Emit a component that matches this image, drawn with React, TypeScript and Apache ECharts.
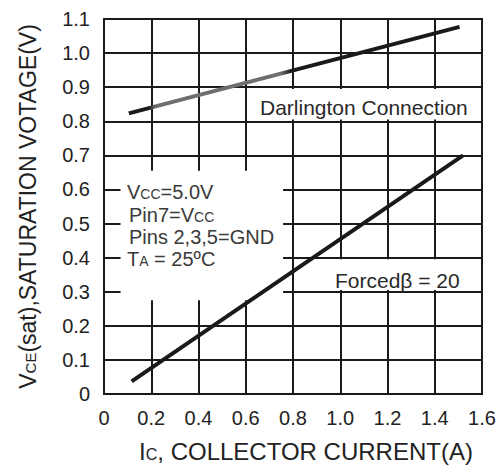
import React, { useEffect, useRef } from "react";
import * as echarts from "echarts";

const xTicks = [0, 0.2, 0.4, 0.6, 0.8, 1.0, 1.2, 1.4, 1.6];
const yTicks = [0, 0.1, 0.2, 0.3, 0.4, 0.5, 0.6, 0.7, 0.8, 0.9, 1.0, 1.1];
const darlingtonData = [
  [0.105, 0.823],
  [1.505, 1.077],
];
const forcedData = [
  [0.117, 0.037],
  [1.52, 0.7],
];
const noteLines = ["V{s|CC}=5.0V", "Pin7=V{s|CC}", "Pins 2,3,5=GND", "T{s|A} = 25ºC"];

const FONT = "'Liberation Sans', Arial, Helvetica, sans-serif";
const INK = "#1a1a1a";

export default function App() {
  const ref = useRef<HTMLDivElement>(null);
  useEffect(() => {
    document.body.style.margin = "0";
    const chart = echarts.init(ref.current!, null, { renderer: "svg" });
    const richSmall = {
      n: { fontSize: 20, fontFamily: FONT, color: "#3a3a3a", verticalAlign: "bottom" },
      s: { fontSize: 14, fontFamily: FONT, color: "#3a3a3a", verticalAlign: "bottom", padding: [0, 0, 1, 0] },
    };
    const noteY = [191.5, 215, 236.5, 258.5];
    const option: any = {
      animation: false,
      backgroundColor: "#fff",
      textStyle: { fontFamily: FONT },
      grid: {
        left: 104,
        right: 19,
        top: 19,
        bottom: 71,
        show: true,
        borderColor: INK,
        borderWidth: 2,
        backgroundColor: "transparent",
      },
      xAxis: {
        type: "value",
        min: xTicks[0],
        max: xTicks[xTicks.length - 1],
        interval: 0.2,
        name: "I{s|C}, COLLECTOR CURRENT(A)",
        nameLocation: "middle",
        nameGap: 45,
        nameTextStyle: {
          fontSize: 24,
          fontFamily: FONT,
          color: "#222",
          padding: [0, 0, 0, 26],
          rich: {
            s: { fontSize: 16, fontFamily: FONT, color: "#222", verticalAlign: "bottom", padding: [0, 0, 1, 0] },
          },
        },
        axisLine: { show: true, lineStyle: { color: INK, width: 2 } },
        axisTick: { show: false },
        axisLabel: {
          fontSize: 20,
          color: "#222",
          margin: 14,
          fontFamily: FONT,
          formatter: (v: number) => (v === 0 ? "0" : v.toFixed(1)),
        },
        splitLine: { show: true, lineStyle: { color: INK, width: 2 } },
      },
      yAxis: {
        type: "value",
        min: yTicks[0],
        max: yTicks[yTicks.length - 1],
        interval: 0.1,
        name: "V{s|CE}(sat),SATURATION VOTAGE(V)",
        nameLocation: "middle",
        nameGap: 65,
        nameTextStyle: {
          fontSize: 23,
          fontFamily: FONT,
          color: "#222",
          rich: {
            s: { fontSize: 15, fontFamily: FONT, color: "#222", verticalAlign: "bottom", padding: [0, 0, 1, 0] },
          },
        },
        axisLine: { show: true, lineStyle: { color: INK, width: 2 } },
        axisTick: { show: true, inside: true, length: 14, lineStyle: { color: INK, width: 2 } },
        axisLabel: {
          fontSize: 20,
          color: "#222",
          margin: 14,
          fontFamily: FONT,
          formatter: (v: number) => (v === 0 ? "0" : v.toFixed(1)),
        },
        splitLine: { show: true, lineStyle: { color: INK, width: 2 } },
      },
      series: [
        {
          type: "line",
          name: "Darlington Connection",
          data: darlingtonData,
          showSymbol: false,
          symbol: "none",
          z: 5,
          lineStyle: {
            width: 4,
            cap: "butt",
            color: {
              type: "linear",
              x: 0,
              y: 0,
              x2: 1,
              y2: 0,
              colorStops: [
                { offset: 0, color: INK },
                { offset: 0.06, color: INK },
                { offset: 0.08, color: "#6e6e6e" },
                { offset: 0.46, color: "#6e6e6e" },
                { offset: 0.49, color: INK },
                { offset: 1, color: INK },
              ],
            },
          },
          markArea: {
            silent: true,
            z: 1,
            itemStyle: { color: "#fff", opacity: 1, borderWidth: 0 },
            label: { show: false },
            data: [
              [
                { xAxis: 0.07, yAxis: 0.655 },
                { xAxis: 0.758, yAxis: 0.275 },
              ],
              [
                { xAxis: 0.66, yAxis: 0.895 },
                { xAxis: 1.59, yAxis: 0.805 },
              ],
              [
                { xAxis: 0.84, yAxis: 0.395 },
                { xAxis: 1.59, yAxis: 0.305 },
              ],
            ],
          },
        },
        {
          type: "line",
          name: "Forcedβ = 20",
          data: forcedData,
          showSymbol: false,
          symbol: "none",
          z: 5,
          lineStyle: { width: 4, color: INK, cap: "butt" },
        },
      ],
      graphic: [
        {
          type: "text",
          z: 10,
          x: 260,
          y: 107,
          style: {
            text: "Darlington Connection",
            fontSize: 21,
            fontFamily: FONT,
            fill: "#2a2a2a",
            verticalAlign: "middle",
            align: "left",
          },
        },
        {
          type: "text",
          z: 10,
          x: 335,
          y: 280.5,
          style: {
            text: "Forcedβ = 20",
            fontSize: 21,
            fontFamily: FONT,
            fill: "#2a2a2a",
            verticalAlign: "middle",
            align: "left",
          },
        },
        ...noteLines.map((t, i) => ({
          type: "text",
          z: 10,
          x: i === 1 || i === 2 ? 129 : 127,
          y: noteY[i],
          style: {
            text: t.replace(/^([^{]+)/, "{n|$1}").replace(/\}([^{]+)$/, "}{n|$1}"),
            rich: richSmall,
            fontSize: 20,
            fontFamily: FONT,
            fill: "#3a3a3a",
            verticalAlign: "middle",
            align: "left",
          },
        })),
      ],
    };
    chart.setOption(option);
    return () => chart.dispose();
  }, []);
  return <div ref={ref} style={{ width: 501, height: 468 }} />;
}
